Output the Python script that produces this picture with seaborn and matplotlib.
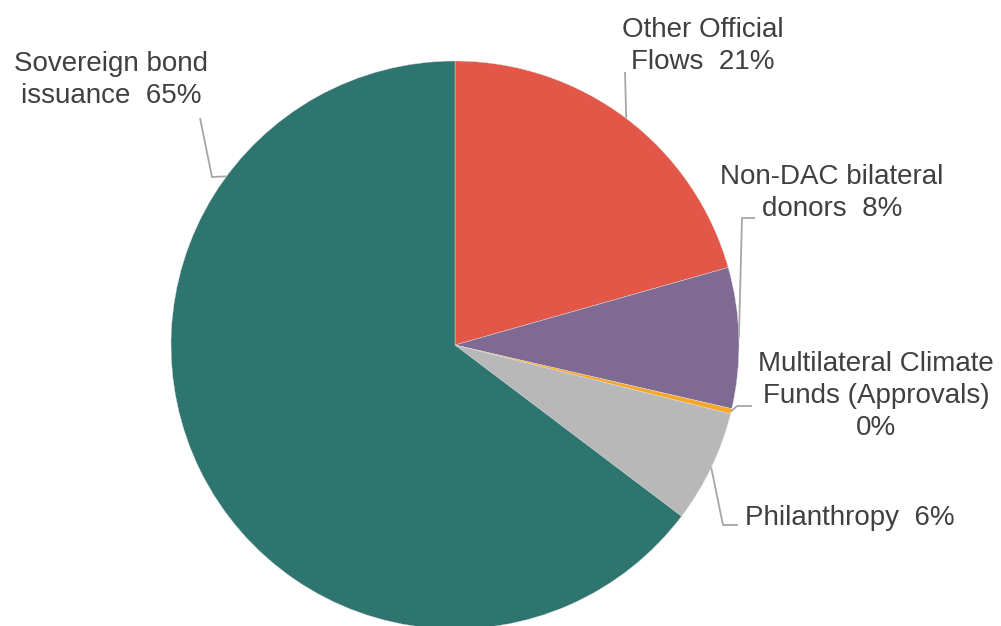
import matplotlib
matplotlib.use("Agg")
import matplotlib.pyplot as plt
import seaborn as sns
import numpy as np

# ---- data ----
categories = ["Other Official\nFlows", "Non-DAC bilateral\ndonors",
              "Multilateral Climate\nFunds (Approvals)\n", "Philanthropy", "Sovereign bond\nissuance"]
shares = [20.6, 8.0, 0.3, 6.4, 64.7]
colors = ["#E35749", "#7E6A93", "#F9A825", "#B8B8B8", "#2E746F"]

# ---- layout (pixel-like coordinates, y up) ----
W, H = 1001, 626
center = (455, 626 - 345)
radius = 284
label_xy = [(703, 626 - 46), (832, 626 - 193), (876, 626 - 396), (850, 626 - 518), (111, 626 - 80)]
elbow_xy = [None, (742, 626 - 218), (737, 626 - 406), (723, 626 - 525), (212, 626 - 177)]
end_xy = [(625, 626 - 72), (755, 626 - 218), (752, 626 - 406), (738, 626 - 525), (200, 626 - 118)]
anchor_frac = [0.5, 0.5, 0.5, 0.5, 0.77]

sns.set_theme(style="white")
plt.rcParams["font.family"] = ["Liberation Sans", "DejaVu Sans"]

fig = plt.figure(figsize=(W / 100, H / 100), dpi=100)
ax = fig.add_axes([0, 0, 1, 1])

ax.pie(shares, colors=colors, startangle=90, counterclock=False,
       center=center, radius=radius, frame=True,
       wedgeprops=dict(linewidth=0.3, edgecolor="#DDDDDD"))
ax.set_xlim(0, W)
ax.set_ylim(0, H)
ax.set_aspect("equal")
ax.axis("off")

total = sum(shares)
cum = np.concatenate([[0], np.cumsum(shares)]) / total
line_col = "#A6A6A6"
text_col = "#404040"
for i, (cat, v) in enumerate(zip(categories, shares)):
    a0 = 90 - 360 * cum[i]
    a1 = 90 - 360 * cum[i + 1]
    ang = np.deg2rad(a0 + anchor_frac[i] * (a1 - a0))
    px = center[0] + radius * np.cos(ang)
    py = center[1] + radius * np.sin(ang)
    pts = [(px, py)]
    if elbow_xy[i] is not None:
        pts.append(elbow_xy[i])
    pts.append(end_xy[i])
    xs, ys = zip(*pts)
    ax.plot(xs, ys, color=line_col, lw=1.3, solid_capstyle="butt")
    pct = f"{round(v / total * 100):d}%"
    if cat.endswith("\n"):
        txt = cat + pct
    else:
        txt = cat + "  " + pct
    ax.text(label_xy[i][0], label_xy[i][1], txt, ha="center", va="center",
            multialignment="center", fontsize=20, color=text_col, linespacing=1.28)

fig.savefig("out.png", dpi=100)
